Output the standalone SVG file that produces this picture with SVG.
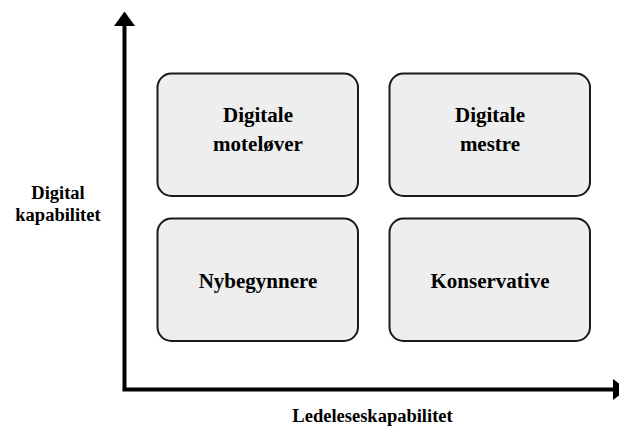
<svg xmlns="http://www.w3.org/2000/svg" width="619" height="428" viewBox="0 0 619 428">
  <style>
    .box { fill: #eeeeee; stroke: #1a1a1a; stroke-width: 2; }
    .lbl { font-family: "Liberation Serif", "Times New Roman", serif; font-weight: bold; font-size: 21px; fill: #000; text-anchor: middle; }
    .axis-lbl { font-family: "Liberation Serif", "Times New Roman", serif; font-weight: bold; font-size: 18.5px; fill: #000; text-anchor: middle; }
    .axis { stroke: #000; stroke-width: 4; fill: none; }
    .head { fill: #000; }
  </style>

  <!-- axes -->
  <g id="connectors">
    <path class="axis" d="M124.5 24 V389.5 H614"/>
    <polygon class="head" points="124.5,11.5 114,26 135,26"/>
    <polygon class="head" points="627,389.5 613,379 613,400"/>
  </g>

  <g id="digitale-motelover">
    <rect class="box" x="157.5" y="73.5" width="200.5" height="122.5" rx="14"/>
    <text class="lbl" x="258" y="122">Digitale</text>
    <text class="lbl" x="258" y="151">moteløver</text>
  </g>

  <g id="digitale-mestre">
    <rect class="box" x="389.5" y="73.5" width="200.5" height="122.5" rx="14"/>
    <text class="lbl" x="490" y="122">Digitale</text>
    <text class="lbl" x="490" y="151">mestre</text>
  </g>

  <g id="nybegynnere">
    <rect class="box" x="157.5" y="218.5" width="200.5" height="122.5" rx="14"/>
    <text class="lbl" x="258" y="287.5">Nybegynnere</text>
  </g>

  <g id="konservative">
    <rect class="box" x="389.5" y="218.5" width="200.5" height="122.5" rx="14"/>
    <text class="lbl" x="490" y="287.5">Konservative</text>
  </g>

  <g id="y-axis-label">
    <text class="axis-lbl" x="58" y="198.5">Digital</text>
    <text class="axis-lbl" x="58" y="221">kapabilitet</text>
  </g>

  <g id="x-axis-label">
    <text class="axis-lbl" x="372.5" y="421.5">Ledeleseskapabilitet</text>
  </g>
</svg>
